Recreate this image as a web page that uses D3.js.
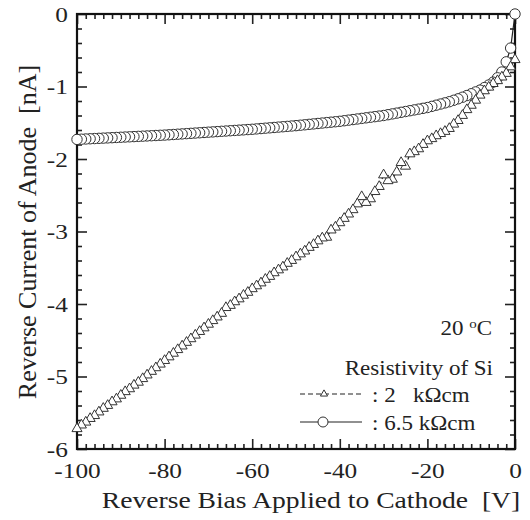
<!doctype html>
<html>
<head>
<meta charset="utf-8">
<script src="https://d3js.org/d3.v7.min.js"></script>
<style>
  body { margin: 0; background: #fff; }
  text { font-family: "Liberation Serif", "Times New Roman", serif; fill: #222; }
  .lbl { white-space: pre; }
</style>
</head>
<body>
<svg id="chart" width="530" height="520"></svg>
<script>
// bias voltage, 1 V steps, recorded from 0 down to -100 V
let volts = d3.range(0, -101, -1);

// 2 kOhm cm (triangles), index 0 = 0 V ... index 100 = -100 V
let cur2k = [
  -0.63, -0.73, -0.82, -0.87, -0.92, -0.96, -1.01, -1.06, -1.12, -1.19,
  -1.26, -1.32, -1.40, -1.47, -1.52, -1.58, -1.62, -1.65, -1.68, -1.72,
  -1.75, -1.80, -1.86, -1.90, -1.93, -2.10, -2.05, -2.18, -2.28, -2.30,
  -2.22, -2.38, -2.45, -2.55, -2.60, -2.52, -2.62, -2.70, -2.76, -2.82,
  -2.88, -2.94, -2.98, -3.08, -3.09, -3.13, -3.18, -3.22, -3.27, -3.31,
  -3.35, -3.40, -3.44, -3.49, -3.53, -3.57, -3.62, -3.66, -3.71, -3.75,
  -3.79, -3.84, -3.88, -3.93, -3.97, -4.02, -4.05, -4.13, -4.18, -4.23,
  -4.28, -4.33, -4.38, -4.43, -4.48, -4.53, -4.58, -4.63, -4.68, -4.73,
  -4.78, -4.83, -4.88, -4.93, -4.98, -5.03, -5.08, -5.12, -5.17, -5.21,
  -5.26, -5.31, -5.35, -5.40, -5.44, -5.49, -5.54, -5.58, -5.63, -5.67,
  -5.72
];

// 6.5 kOhm cm (circles)
let cur65k = [
  0, -0.470, -0.660, -0.800, -0.880, -0.940, -0.980, -1.015, -1.050, -1.075,
  -1.100, -1.125, -1.148, -1.170, -1.190, -1.210, -1.226, -1.242, -1.258, -1.274,
  -1.290, -1.301, -1.312, -1.323, -1.334, -1.345, -1.356, -1.367, -1.378, -1.389,
  -1.400, -1.408, -1.416, -1.424, -1.432, -1.440, -1.448, -1.456, -1.464, -1.472,
  -1.480, -1.486, -1.492, -1.498, -1.504, -1.510, -1.516, -1.522, -1.528, -1.534,
  -1.540, -1.545, -1.550, -1.555, -1.560, -1.565, -1.570, -1.575, -1.580, -1.585,
  -1.590, -1.594, -1.598, -1.602, -1.606, -1.610, -1.614, -1.618, -1.622, -1.626,
  -1.630, -1.634, -1.638, -1.642, -1.646, -1.650, -1.654, -1.658, -1.662, -1.666,
  -1.670, -1.673, -1.676, -1.679, -1.682, -1.685, -1.688, -1.691, -1.694, -1.697,
  -1.700, -1.703, -1.706, -1.709, -1.712, -1.715, -1.718, -1.721, -1.724, -1.727,
  -1.730
];

let xMajor = [-100, -80, -60, -40, -20, 0];
let yMajor = [-6, -5, -4, -3, -2, -1, 0];

let svg = d3.select("#chart");
let pLeft = 77, pRight = 515, pTop = 14, pBottom = 449;
let stretch = 1.15; // the original figure's type is a bit wide

let x = d3.scaleLinear().domain([-100, 0]).range([pLeft, pRight]);
let y = d3.scaleLinear().domain([-6, 0]).range([pBottom, pTop]);

let xMinor = d3.range(-100, 1, 2).filter(v => v % 20 !== 0);
let yMinor = d3.range(-6, 0.01, 0.2).map(v => +v.toFixed(1)).filter(v => Math.abs(v - Math.round(v)) > 0.01);

// plain hyphen for negatives, like the original
let fmt = d => String(d);

function styleAxis(g) {
  g.select(".domain").remove();
  g.selectAll(".tick line").attr("stroke", "#222").attr("stroke-width", 1.6);
  g.selectAll("text").attr("fill", "#222").style("font-size", "22px")
    .style("font-family", '"Liberation Serif", "Times New Roman", serif');
}

// bottom
svg.append("g").attr("transform", `translate(0,${pBottom})`)
  .call(d3.axisBottom(x).tickValues(xMajor).tickSize(-10).tickPadding(13).tickFormat(fmt))
  .call(styleAxis)
  .call(g => g.selectAll("text").attr("transform", `scale(${stretch},1)`));
svg.append("g").attr("transform", `translate(0,${pBottom})`)
  .call(d3.axisBottom(x).tickValues(xMinor).tickSize(-5).tickFormat(""))
  .call(styleAxis);
// top
svg.append("g").attr("transform", `translate(0,${pTop})`)
  .call(d3.axisTop(x).tickValues(xMajor).tickSize(-10).tickFormat(""))
  .call(styleAxis);
svg.append("g").attr("transform", `translate(0,${pTop})`)
  .call(d3.axisTop(x).tickValues(xMinor).tickSize(-5).tickFormat(""))
  .call(styleAxis);
// left
svg.append("g").attr("transform", `translate(${pLeft},0)`)
  .call(d3.axisLeft(y).tickValues(yMajor).tickSize(-10).tickPadding(8).tickFormat(fmt))
  .call(styleAxis)
  .call(g => g.selectAll("text").attr("transform", `scale(${stretch},1)`));
svg.append("g").attr("transform", `translate(${pLeft},0)`)
  .call(d3.axisLeft(y).tickValues(yMinor).tickSize(-5).tickFormat(""))
  .call(styleAxis);
// right
svg.append("g").attr("transform", `translate(${pRight},0)`)
  .call(d3.axisRight(y).tickValues(yMajor).tickSize(-10).tickFormat(""))
  .call(styleAxis);
svg.append("g").attr("transform", `translate(${pRight},0)`)
  .call(d3.axisRight(y).tickValues(yMinor).tickSize(-5).tickFormat(""))
  .call(styleAxis);

// frame
svg.append("rect")
  .attr("x", pLeft).attr("y", pTop)
  .attr("width", pRight - pLeft).attr("height", pBottom - pTop)
  .attr("fill", "none").attr("stroke", "#111").attr("stroke-width", 2.2);

// series
let line = d3.line().x(d => x(d[0])).y(d => y(d[1]));
let pts65 = volts.map((v, i) => [v, cur65k[i]]);
let pts2 = volts.map((v, i) => [v, cur2k[i]]);

svg.append("path").datum(pts65).attr("d", line)
  .attr("fill", "none").attr("stroke", "#222").attr("stroke-width", 1.2);
svg.append("g").selectAll("circle").data(pts65).join("circle")
  .attr("cx", d => x(d[0])).attr("cy", d => y(d[1])).attr("r", 5.2)
  .attr("fill", "#fff").attr("stroke", "#333").attr("stroke-width", 1);

let tri = d3.symbol().type(d3.symbolTriangle).size(44);
svg.append("path").datum(pts2).attr("d", line)
  .attr("fill", "none").attr("stroke", "#222").attr("stroke-width", 1.2)
  .attr("stroke-dasharray", "5,3");
svg.append("g").selectAll("path").data(pts2).join("path")
  .attr("d", tri)
  .attr("transform", d => `translate(${x(d[0])},${y(d[1])})`)
  .attr("fill", "#fff").attr("stroke", "#333").attr("stroke-width", 1);

// text helper: stretched horizontally around its anchor
function label(px, py, size, anchor) {
  return svg.append("text")
    .attr("transform", `translate(${px},${py}) scale(${stretch},1)`)
    .attr("text-anchor", anchor)
    .attr("class", "lbl")
    .style("font-size", size + "px");
}

// axis titles
label(311, 508, 24, "middle").text("Reverse Bias Applied to Cathode  [V]");
svg.append("text")
  .attr("transform", "translate(36,232) rotate(-90)").attr("text-anchor", "middle")
  .style("font-size", "26px").attr("class", "lbl")
  .text("Reverse Current of Anode  [nA]");

// annotations / legend
let temp = label(492, 335, 20, "end");
temp.append("tspan").text("20 ");
temp.append("tspan").attr("dy", -7).style("font-size", "13px").text("o");
temp.append("tspan").attr("dy", 7).text("C");

label(493, 375, 20, "end").text("Resistivity of Si");

svg.append("line").attr("x1", 300).attr("x2", 362).attr("y1", 394).attr("y2", 394)
  .attr("stroke", "#222").attr("stroke-width", 1.2).attr("stroke-dasharray", "5,3");
svg.append("path").attr("d", d3.symbol().type(d3.symbolTriangle).size(22))
  .attr("transform", "translate(324,394)")
  .attr("fill", "#fff").attr("stroke", "#333").attr("stroke-width", 1);
label(372, 402, 20, "start").text(": 2   k\u03A9cm");

svg.append("line").attr("x1", 300).attr("x2", 362).attr("y1", 422).attr("y2", 422)
  .attr("stroke", "#222").attr("stroke-width", 1.2);
svg.append("circle").attr("cx", 323).attr("cy", 422).attr("r", 5)
  .attr("fill", "#fff").attr("stroke", "#333").attr("stroke-width", 1);
label(372, 430, 20, "start").text(": 6.5 k\u03A9cm");
</script>
</body>
</html>
